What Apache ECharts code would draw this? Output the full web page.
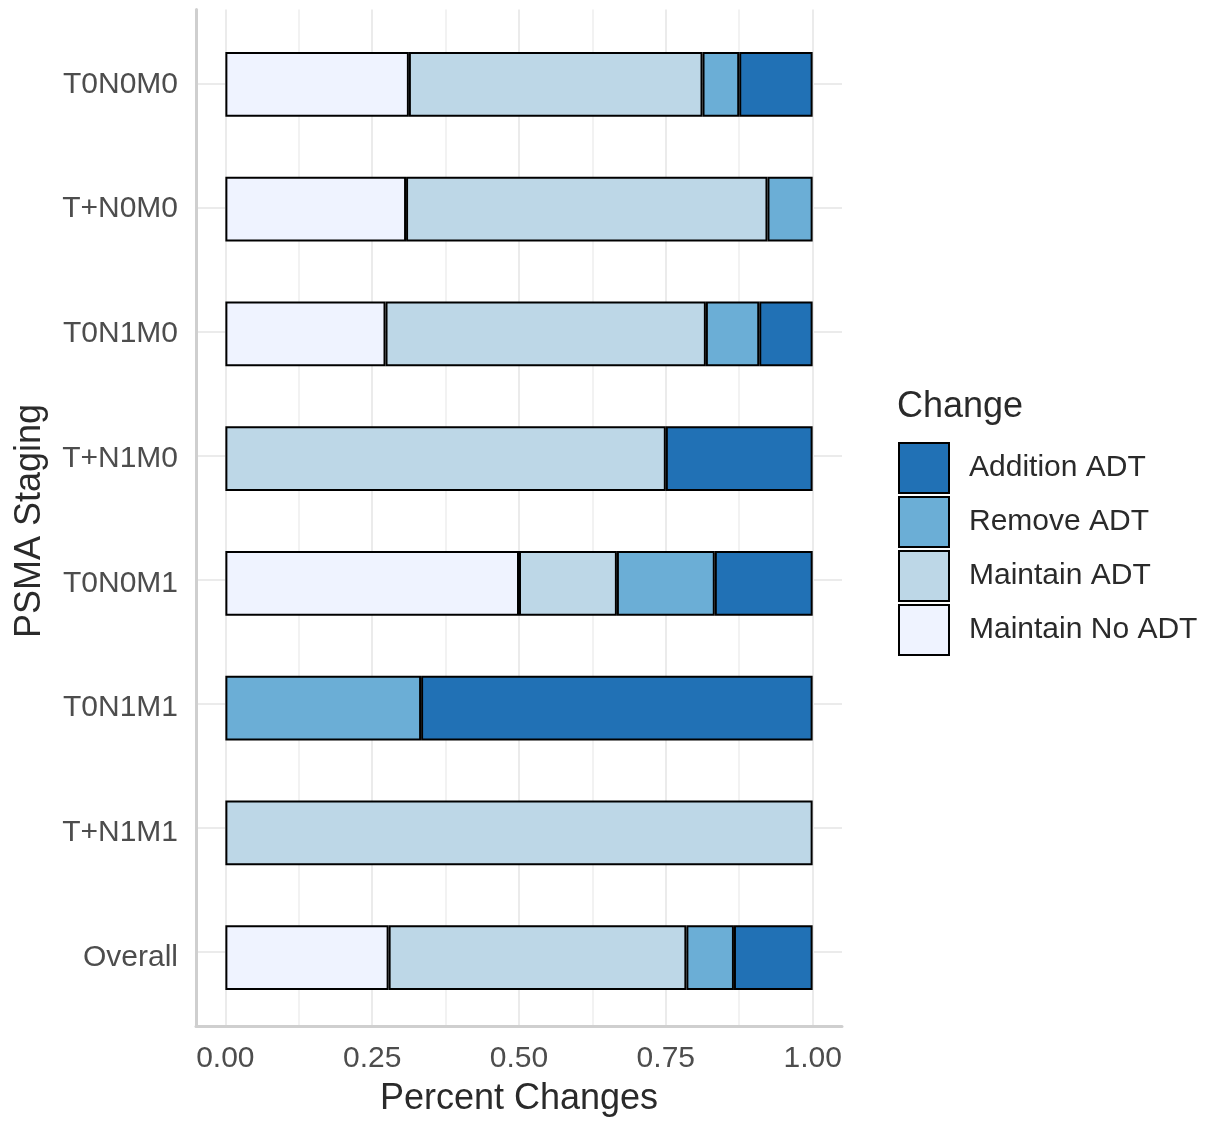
<!DOCTYPE html>
<html>
<head>
<meta charset="utf-8">
<script src="https://cdn.jsdelivr.net/npm/echarts@6/dist/echarts.min.js"></script>
<style>
  html, body { margin: 0; padding: 0; background: #fff; }
  #chart { width: 1214px; height: 1122px; }
</style>
</head>
<body>
<div id="chart"></div>
<script>
// categories top to bottom
const stages = ["T0N0M0", "T+N0M0", "T0N1M0", "T+N1M0", "T0N0M1", "T0N1M1", "T+N1M1", "Overall"];

// share of each change per stage
const maintainNoAdt = [0.3125, 0.3077, 0.2727, 0, 0.5, 0, 0, 0.278];
const maintainAdt = [0.5, 0.6154, 0.5455, 0.75, 0.1667, 0, 1, 0.507];
const removeAdt = [0.0625, 0.0769, 0.0909, 0, 0.1667, 0.3333, 0, 0.081];
const additionAdt = [0.125, 0, 0.0909, 0.25, 0.1667, 0.6667, 0, 0.134];

const xTicks = [0, 0.25, 0.5, 0.75, 1];
const xMinorTicks = [0.125, 0.375, 0.625, 0.875];
const legendOrder = ["Addition ADT", "Remove ADT", "Maintain ADT", "Maintain No ADT"];

const FONT = "'Liberation Sans', Arial, sans-serif";
const colors = {
  "Maintain No ADT": "#eff3ff",
  "Maintain ADT": "#bdd7e7",
  "Remove ADT": "#6baed6",
  "Addition ADT": "#2171b5",
};

// panel with ggplot-like expansion (0.6 band each end on the discrete axis)
const panelLeft = 196, panelWidth = 646, panelTop = 9.5, panelHeight = 1023;
const span = stages.length - 1 + 1.2;
const band = panelHeight / span;
const catLines = stages.map((_, i) => i + 0.6);

function makeSeries(name, values) {
  return {
    name: name,
    type: "bar",
    stack: "all",
    xAxisIndex: 2,
    yAxisIndex: 1,
    barWidth: "52%",
    itemStyle: { color: colors[name], borderColor: "#000", borderWidth: 2 },
    data: values.map((v) => (v > 0 ? v : "-")),
  };
}

const chart = echarts.init(document.getElementById("chart"));
chart.setOption({
  animation: false,
  textStyle: { fontFamily: FONT },
  title: {
    text: "Change",
    left: 897,
    top: 389,
    padding: 0,
    textStyle: { fontFamily: FONT, fontSize: 36, fontWeight: "normal", color: "#2a2a2a" },
  },
  legend: {
    data: legendOrder,
    orient: "vertical",
    left: 898,
    top: 442,
    padding: 0,
    itemWidth: 50,
    itemHeight: 50,
    itemGap: 2,
    icon: "rect",
    textStyle: { fontFamily: FONT, fontSize: 30, color: "#2a2a2a", padding: [0, 0, 0, 15] },
  },
  grid: [
    { left: panelLeft, top: panelTop, width: panelWidth, height: panelHeight, containLabel: false },
    { left: panelLeft, top: panelTop + band * 0.1, width: panelWidth, height: band * stages.length, containLabel: false },
  ],
  xAxis: [
    {
      gridIndex: 0,
      type: "value",
      min: -0.05,
      max: 1.05,
      name: "Percent Changes",
      nameLocation: "middle",
      nameGap: 55,
      nameTextStyle: { fontFamily: FONT, fontSize: 36, color: "#2a2a2a" },
      axisLine: { show: true, onZero: false, lineStyle: { color: "#cfcfcf", width: 3 } },
      axisTick: { show: false, customValues: xTicks },
      axisLabel: {
        customValues: xTicks,
        margin: 18,
        fontSize: 30,
        color: "#4d4d4d",
        formatter: (v) => v.toFixed(2),
      },
      splitLine: { show: true, lineStyle: { color: "#ebebeb", width: 2 } },
    },
    {
      gridIndex: 0,
      type: "value",
      position: "top",
      min: -0.05,
      max: 1.05,
      axisLine: { show: false },
      axisTick: { show: false, customValues: xMinorTicks },
      axisLabel: { show: false },
      splitLine: { show: true, lineStyle: { color: "#f2f2f2", width: 2 } },
    },
    {
      gridIndex: 1,
      type: "value",
      min: -0.05,
      max: 1.05,
      show: false,
    },
  ],
  yAxis: [
    {
      gridIndex: 0,
      type: "value",
      min: 0,
      max: span,
      axisLine: { show: true, onZero: false, lineStyle: { color: "#cfcfcf", width: 3 } },
      axisTick: { show: false, customValues: catLines },
      axisLabel: { show: false },
      splitLine: { show: true, lineStyle: { color: "#ebebeb", width: 2 } },
    },
    {
      gridIndex: 1,
      type: "category",
      inverse: true,
      data: stages,
      name: "PSMA Staging",
      nameLocation: "middle",
      nameGap: 148,
      nameTextStyle: { fontFamily: FONT, fontSize: 36, color: "#2a2a2a" },
      axisLine: { show: false },
      axisTick: { show: false },
      axisLabel: { margin: 18, fontSize: 30, color: "#4d4d4d" },
      splitLine: { show: false },
    },
  ],
  series: [
    makeSeries("Maintain No ADT", maintainNoAdt),
    makeSeries("Maintain ADT", maintainAdt),
    makeSeries("Remove ADT", removeAdt),
    makeSeries("Addition ADT", additionAdt),
  ],
});
</script>
</body>
</html>
